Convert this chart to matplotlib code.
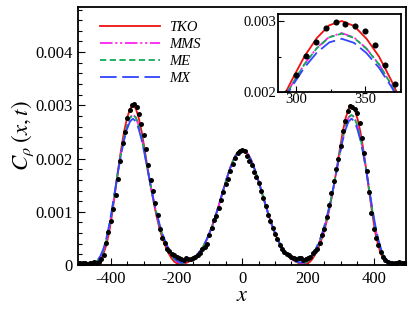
import numpy as np
import matplotlib
matplotlib.use("Agg")
import matplotlib.pyplot as plt
from matplotlib.ticker import MultipleLocator, FixedLocator, FuncFormatter

plt.rcParams['font.family'] = ['Liberation Serif', 'DejaVu Serif']
plt.rcParams['mathtext.fontset'] = 'stix'
plt.rcParams['lines.scale_dashes'] = False

# ---- data (concentration values in units of 1e-4) ----
x_model = np.arange(-504, 505, 9)

tko = [0.00, 0.00, 0.01, 0.02, 0.04, 0.10, 0.25, 0.50, 1.00, 2.00, 3.70, 6.20, 9.60, 13.60, 17.80, 21.60,
       25.00, 27.50, 29.30, 30.00, 29.40, 27.60, 25.00, 21.70, 18.20, 14.90, 11.90, 9.20, 6.90, 5.06, 3.56,
       2.31, 1.31, 0.63, 0.28, 0.20, 0.25, 0.38, 0.65, 1.00, 1.46, 2.03, 2.75, 3.66, 4.76, 6.07, 7.57, 9.24,
       11.06, 12.95, 14.85, 16.67, 18.33, 19.74, 20.80, 21.47,
       21.70,
       21.47, 20.80, 19.74, 18.33, 16.67, 14.85, 12.95, 11.06, 9.24, 7.57, 6.07, 4.76, 3.66, 2.75, 2.03, 1.46,
       1.00, 0.65, 0.38, 0.25, 0.20, 0.28, 0.63, 1.31, 2.31, 3.56, 5.06, 6.90, 9.20, 11.90, 14.90, 18.20,
       21.70, 25.00, 27.60, 29.40, 30.00, 29.30, 27.50, 25.00, 21.60, 17.80, 13.60, 9.60, 6.20, 3.70, 2.00,
       1.00, 0.50, 0.25, 0.10, 0.04, 0.02, 0.01, 0.00, 0.00]

mms = [0.00, 0.01, 0.03, 0.06, 0.13, 0.25, 0.45, 0.74, 1.45, 2.65, 4.50, 7.08, 10.31, 13.95, 17.63, 20.98,
       23.91, 26.11, 27.68, 28.30, 27.76, 26.20, 23.91, 21.05, 17.96, 14.94, 12.17, 9.66, 7.44, 5.61, 4.13,
       2.89, 1.86, 1.07, 0.59, 0.39, 0.38, 0.50, 0.72, 1.03, 1.46, 2.03, 2.75, 3.66, 4.76, 6.07, 7.57, 9.24,
       11.06, 12.95, 14.85, 16.67, 18.33, 19.74, 20.80, 21.47,
       21.70,
       21.47, 20.80, 19.74, 18.33, 16.67, 14.85, 12.95, 11.06, 9.24, 7.57, 6.07, 4.76, 3.66, 2.75, 2.03, 1.46,
       1.03, 0.72, 0.50, 0.38, 0.39, 0.59, 1.07, 1.86, 2.89, 4.13, 5.61, 7.44, 9.66, 12.17, 14.94, 17.96,
       21.05, 23.91, 26.20, 27.76, 28.30, 27.68, 26.11, 23.91, 20.98, 17.63, 13.95, 10.31, 7.08, 4.50, 2.65,
       1.45, 0.74, 0.45, 0.25, 0.13, 0.06, 0.03, 0.01, 0.00]

me = [0.00, 0.01, 0.03, 0.07, 0.14, 0.26, 0.47, 0.77, 1.49, 2.69, 4.54, 7.12, 10.35, 13.98, 17.65, 20.98,
      23.89, 26.07, 27.62, 28.22, 27.70, 26.16, 23.89, 21.04, 17.96, 14.95, 12.18, 9.68, 7.46, 5.63, 4.15,
      2.91, 1.88, 1.09, 0.61, 0.41, 0.40, 0.52, 0.74, 1.05, 1.48, 2.05, 2.77, 3.68, 4.78, 6.09, 7.59, 9.26,
      11.08, 12.97, 14.87, 16.68, 18.33, 19.73, 20.79, 21.45,
      21.68,
      21.45, 20.79, 19.73, 18.33, 16.68, 14.87, 12.97, 11.08, 9.26, 7.59, 6.09, 4.78, 3.68, 2.77, 2.05, 1.48,
      1.05, 0.74, 0.52, 0.40, 0.41, 0.61, 1.09, 1.88, 2.91, 4.15, 5.63, 7.46, 9.68, 12.18, 14.95, 17.96,
      21.04, 23.89, 26.16, 27.70, 28.22, 27.62, 26.07, 23.89, 20.98, 17.65, 13.98, 10.35, 7.12, 4.54, 2.69,
      1.49, 0.77, 0.47, 0.26, 0.14, 0.07, 0.03, 0.01, 0.00]

mx = [0.01, 0.03, 0.07, 0.14, 0.25, 0.40, 0.60, 0.86, 1.67, 2.98, 4.92, 7.53, 10.70, 14.17, 17.60, 20.73,
      23.42, 25.47, 26.92, 27.50, 26.99, 25.54, 23.44, 20.78, 17.88, 15.02, 12.34, 9.91, 7.74, 5.89, 4.43,
      3.17, 2.14, 1.30, 0.76, 0.50, 0.46, 0.55, 0.75, 1.07, 1.53, 2.11, 2.84, 3.75, 4.85, 6.16, 7.65, 9.31,
      11.12, 13.00, 14.88, 16.68, 18.32, 19.71, 20.75, 21.40,
      21.62,
      21.40, 20.75, 19.71, 18.32, 16.68, 14.88, 13.00, 11.12, 9.31, 7.65, 6.16, 4.85, 3.75, 2.84, 2.11, 1.53,
      1.07, 0.75, 0.55, 0.46, 0.50, 0.76, 1.30, 2.14, 3.17, 4.43, 5.89, 7.74, 9.91, 12.34, 15.02, 17.88,
      20.78, 23.44, 25.54, 26.99, 27.50, 26.92, 25.47, 23.42, 20.73, 17.60, 14.17, 10.70, 7.53, 4.92, 2.98,
      1.67, 0.86, 0.60, 0.40, 0.25, 0.14, 0.07, 0.03, 0.01]

x_dots = np.linspace(-500, 500, 141)
dots = [0.4, 0.3, 0.4, 0.3, 0.2, 0.3, 0.4, 0.5, 0.4, 0.5, 1.2, 1.9, 4.2, 6.2, 8.2, 10.5, 13.2, 16.2, 19.5,
        23.0, 25.0, 27.6, 29.2, 30.1, 30.2, 29.7, 28.3, 26.5, 24.5, 21.8, 18.7, 16.0, 13.9, 11.7, 9.4, 6.8,
        5.0, 4.2, 3.1, 2.6, 2.1, 1.8, 1.5, 1.3, 1.2, 1.0, 1.3, 1.1, 1.2, 1.4, 1.6, 1.9, 2.2, 3.0, 3.3, 3.9,
        5.6, 7.0, 8.4, 9.3, 10.8, 12.2, 13.8, 15.2, 16.2, 17.6, 19.0, 20.2, 21.1, 21.5, 21.6, 21.4, 20.5,
        19.6, 18.7, 17.5, 16.5, 15.4, 13.9, 12.6, 11.1, 9.4, 8.2, 6.9, 5.9, 4.8, 3.8, 3.0, 2.5, 2.1, 1.8,
        1.6, 1.4, 1.2, 1.3, 1.4, 1.0, 1.2, 1.4, 1.5, 2.2, 2.6, 3.1, 4.2, 5.6, 6.8, 9.0, 11.2, 13.5, 15.8,
        18.1, 19.9, 22.4, 25.1, 27.1, 29.0, 29.8, 29.6, 29.3, 28.6, 26.6, 23.8, 21.1, 17.7, 13.8, 9.8, 6.8,
        5.0, 3.8, 2.4, 1.5, 1.0, 0.5, 0.4, 0.3, 0.4, 0.3, 0.5, 0.3, 0.4, 0.3]

unit = 1e-4
labels = ['TKO', 'MMS', 'ME', 'MX']
series = [tko, mms, me, mx]
colors = ['#ee1111', '#ff22ee', '#11aa55', '#3344ff']
styles = ['-', (0, (9, 2, 1.5, 2, 1.5, 2)), (0, (4.5, 2.5)), (0, (12, 4))]


def draw(ax, ms):
    for lab, s, c, ls in zip(labels, series, colors, styles):
        ax.plot(x_model, np.array(s) * unit, color=c, ls=ls, lw=1.3, label=lab)
    ax.plot(x_dots, np.array(dots) * unit, 'o', color='black', ms=ms, mew=0, zorder=5)


fig = plt.figure(figsize=(4.09, 3.14), dpi=100)
ax = fig.add_axes([0.1907, 0.156, 0.803, 0.822])
draw(ax, 3.6)
ax.set_xlim(-500, 500)
ax.set_ylim(0, 0.00485)
ax.xaxis.set_major_locator(FixedLocator([-400, -200, 0, 200, 400]))
ax.xaxis.set_minor_locator(MultipleLocator(50))
ax.yaxis.set_major_locator(MultipleLocator(0.001))
ax.yaxis.set_minor_locator(MultipleLocator(0.0002))
ax.yaxis.set_major_formatter(FuncFormatter(lambda v, p: '0' if abs(v) < 1e-12 else f'{v:.3f}'))
ax.xaxis.set_major_formatter(FuncFormatter(lambda v, p: f'{v:.0f}'))
ax.tick_params(which='both', direction='in', top=False, right=False, labelsize=12, width=0.8)
ax.tick_params(which='major', length=5, pad=4)
ax.tick_params(which='minor', length=3)
for sp in ax.spines.values():
    sp.set_linewidth(1.3)
ax.set_xlabel(r'$x$', fontsize=16, labelpad=0)
ax.set_ylabel(r'$C_{\rho}\;(x,t)$', fontsize=16.5, labelpad=-1)

leg = ax.legend(loc='upper left', bbox_to_anchor=(0.067, 0.945), frameon=False,
                handlelength=4.1, handletextpad=0.65, labelspacing=0.25,
                borderaxespad=0, borderpad=0,
                prop={'family': 'Liberation Serif', 'style': 'italic', 'size': 10.5})

axin = fig.add_axes([0.68, 0.707, 0.3007, 0.2487])
draw(axin, 4.4)
axin.set_xlim(287, 376)
axin.set_ylim(0.002, 0.0031)
axin.xaxis.set_major_locator(FixedLocator([300, 350]))
axin.xaxis.set_minor_locator(MultipleLocator(25))
axin.yaxis.set_major_locator(FixedLocator([0.002, 0.003]))
axin.yaxis.set_minor_locator(FixedLocator([0.0025]))
axin.yaxis.set_major_formatter(FuncFormatter(lambda v, p: f'{v:.3f}'))
axin.tick_params(which='both', direction='in', top=False, right=False, labelsize=10.5, width=0.8, pad=1)
axin.tick_params(which='major', length=4)
axin.tick_params(which='minor', length=2.5)
for sp in axin.spines.values():
    sp.set_linewidth(1.3)

fig.savefig('out.png', dpi=100)
